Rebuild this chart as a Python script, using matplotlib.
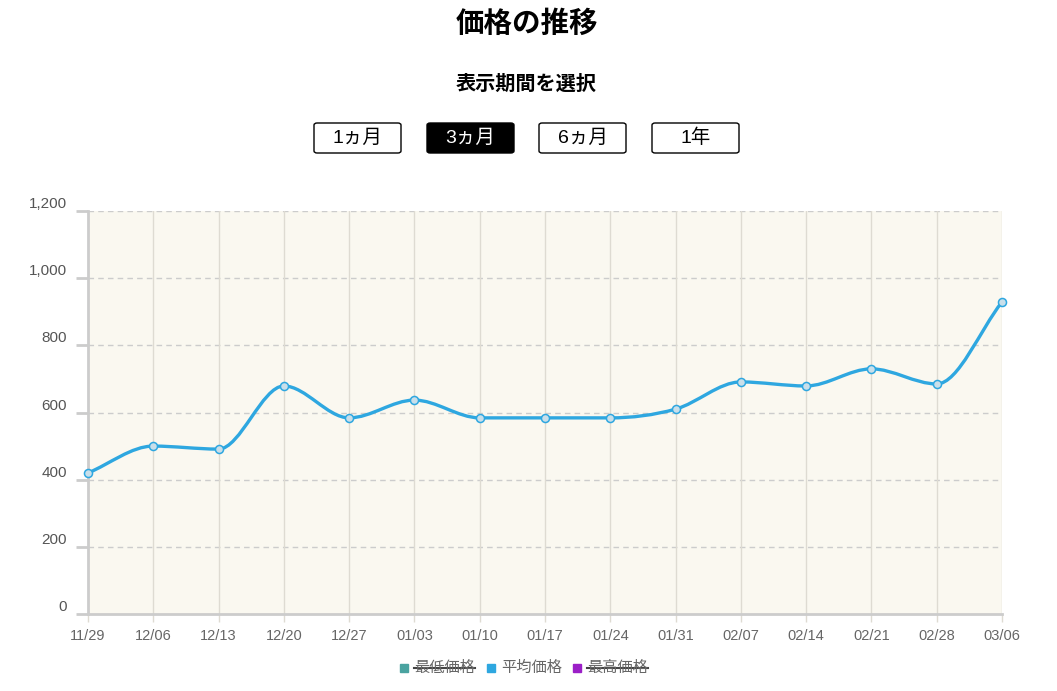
import matplotlib.pyplot as plt
import numpy as np
from matplotlib.path import Path
from matplotlib.patches import PathPatch, FancyBboxPatch

plt.rcParams['font.family'] = ['Liberation Sans', 'Noto Sans CJK JP', 'DejaVu Sans']

#--------------------------------------------------------------------
# DATA
#--------------------------------------------------------------------
DATES = ["11/29", "12/06", "12/13", "12/20", "12/27", "01/03", "01/10", "01/17",
         "01/24", "01/31", "02/07", "02/14", "02/21", "02/28", "03/06"]
AVG_PRICE = [420, 500, 491, 679, 584, 637, 584, 584, 584, 610, 691, 679, 730, 685, 929]
Y_TICKS = [0, 200, 400, 600, 800, 1000, 1200]
BUTTONS = ["1ヵ月", "3ヵ月", "6ヵ月", "1年"]
ACTIVE_BUTTON = 1
LEGEND_LABELS = ["最低価格", "平均価格", "最高価格"]
LEGEND_COLORS = ["#4aa3a0", "#2ea7e0", "#9b1fc7"]
LEGEND_HIDDEN = [True, False, True]

LINE_COLOR = "#2ea7e0"
W, H = 1057, 691


def monotone_path(xs, ys):
    # monotone cubic (Fritsch-Carlson) as bezier segments
    xs = np.asarray(xs, float)
    ys = np.asarray(ys, float)
    n = len(xs)
    dx = np.diff(xs)
    d = np.diff(ys) / dx
    m = np.zeros(n)
    m[0], m[-1] = d[0], d[-1]
    for i in range(1, n - 1):
        m[i] = 0 if d[i - 1] * d[i] <= 0 else (d[i - 1] + d[i]) / 2
    for i in range(n - 1):
        if d[i] == 0:
            m[i] = m[i + 1] = 0
            continue
        a, b = m[i] / d[i], m[i + 1] / d[i]
        s = a * a + b * b
        if s > 9:
            t = 3 / np.sqrt(s)
            m[i], m[i + 1] = t * a * d[i], t * b * d[i]
    verts = [(xs[0], ys[0])]
    codes = [Path.MOVETO]
    for i in range(n - 1):
        h = dx[i] / 3
        verts += [(xs[i] + h, ys[i] + m[i] * h), (xs[i + 1] - h, ys[i + 1] - m[i + 1] * h),
                  (xs[i + 1], ys[i + 1])]
        codes += [Path.CURVE4] * 3
    return Path(verts, codes)


fig = plt.figure(figsize=(W / 100, H / 100), dpi=100)
ax = fig.add_axes([88 / W, 1 - 614 / H, (1002 - 88) / W, (614 - 211) / H])
ax.set_facecolor("#faf8f0")

x = np.arange(len(DATES))
ax.set_xlim(0, len(DATES) - 1)
ax.set_ylim(0, 1200)

# grid
for yv in Y_TICKS[1:]:
    ax.axhline(yv, color="#cccccc", lw=1, ls=(0, (4, 3)), zorder=1)
for xv in x[1:]:
    ax.axvline(xv, color="#dedbd2", lw=1, zorder=1)

# smoothed line
ax.add_patch(PathPatch(monotone_path(x, AVG_PRICE), fill=False, edgecolor=LINE_COLOR,
                       lw=2.4, zorder=3, capstyle="round", joinstyle="round"))
ax.plot(x, AVG_PRICE, ls="none", marker="o", ms=5.8, mfc="#c9dfea",
        mec=LINE_COLOR, mew=1.1, zorder=4, clip_on=False)

# axes
for s in ["top", "right"]:
    ax.spines[s].set_visible(False)
for s in ["left", "bottom"]:
    ax.spines[s].set_color("#cccccc")
    ax.spines[s].set_linewidth(2)
ax.set_yticks(Y_TICKS)
ax.set_yticklabels([f"{v:,}" for v in Y_TICKS], va="bottom")
ax.tick_params(axis="y", length=9, width=2, color="#cccccc", labelcolor="#555555",
               labelsize=11, pad=6)
ax.set_xticks(x)
ax.set_xticklabels(DATES)
ax.tick_params(axis="x", length=6, width=1, color="#dedbd2", labelcolor="#666666",
               labelsize=10.5, pad=5)

# title and period selector
fig.text(527 / W, 1 - 24 / H, "価格の推移", ha="center", va="center",
         fontsize=20.5, fontweight="bold")
fig.text(526 / W, 1 - 84 / H, "表示期間を選択", ha="center", va="center",
         fontsize=14.5, fontweight="bold")
btn_left = [314, 427, 539, 652]
for i, (lbl, bx) in enumerate(zip(BUTTONS, btn_left)):
    active = i == ACTIVE_BUTTON
    fig.patches.append(FancyBboxPatch(
        (bx / W, 1 - 153 / H), 87 / W, 30 / H,
        boxstyle="round,pad=0,rounding_size=0.003", transform=fig.transFigure,
        facecolor="black" if active else "white", edgecolor="black", lw=1))
    fig.text((bx + 43.5) / W, 1 - 138 / H, lbl, ha="center", va="center",
             fontsize=14, color="white" if active else "black")

# legend
leg_x = [400, 487, 573]
renderer = fig.canvas.get_renderer()
for lbl, col, hidden, lx in zip(LEGEND_LABELS, LEGEND_COLORS, LEGEND_HIDDEN, leg_x):
    fig.patches.append(plt.Rectangle((lx / W, 1 - 672 / H), 8 / W, 8 / H,
                                     transform=fig.transFigure, color=col))
    t = fig.text((lx + 14) / W, 1 - 668 / H, lbl, ha="left", va="center",
                 fontsize=11, color="#666666")
    if hidden:
        bb = t.get_window_extent(renderer)
        fig.add_artist(plt.Line2D([bb.x0 / W, bb.x1 / W], [1 - 668 / H] * 2,
                                  transform=fig.transFigure, color="#444444", lw=1.5))

fig.savefig("out.png", dpi=100)
